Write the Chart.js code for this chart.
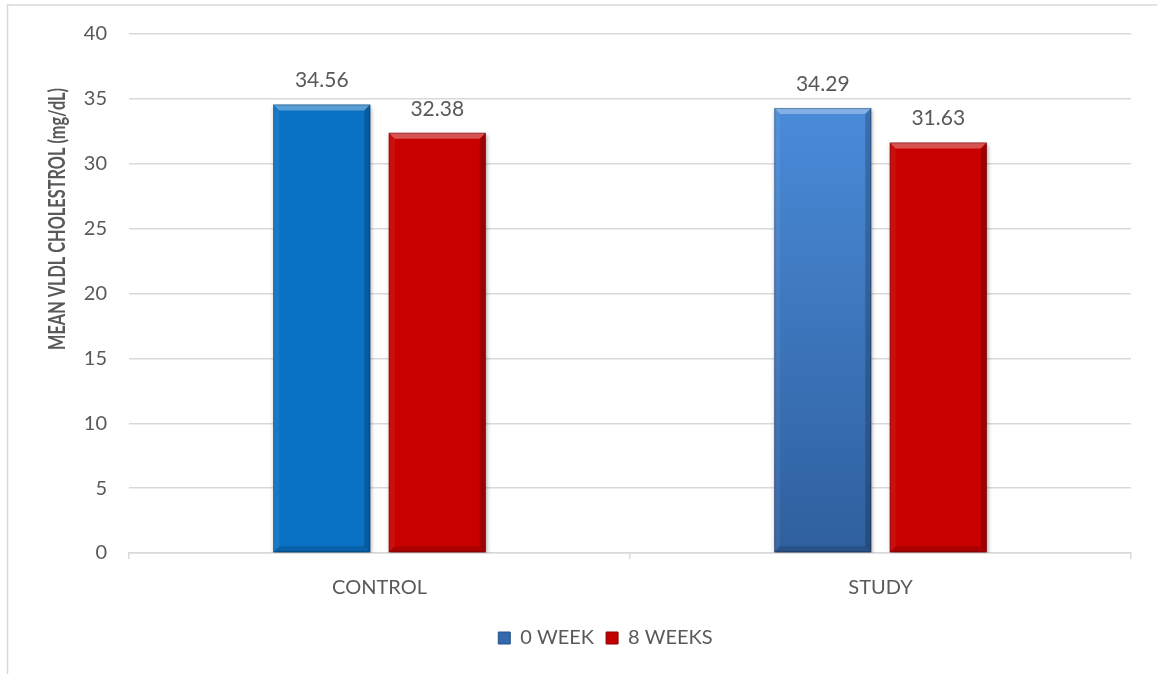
<!DOCTYPE html>
<html>
<head>
<meta charset="utf-8">
<script src="https://cdn.jsdelivr.net/npm/chart.js@4.4.1/dist/chart.umd.min.js"></script>
<style>
  html, body { margin: 0; padding: 0; background: #ffffff; overflow: hidden; }
  #wrap { width: 1157px; height: 674px; position: relative; }
</style>
</head>
<body>
<div id="wrap"><canvas id="c" width="1157" height="674"></canvas></div>
<script>
// ---- data ----
const categories = ['CONTROL', 'STUDY'];
const seriesNames = ['0 WEEK', '8 WEEKS'];
const week0 = [34.56, 34.29];
const week8 = [32.38, 31.63];
const yMin = 0, yMax = 40, yStep = 5;
const yAxisTitle = 'MEAN VLDL CHOLESTROL (mg/dL)';

// ---- styling ----
const FONT = 'Lato, "Open Sans", sans-serif';
const TEXT = '#595959';
const GRID = '#D9D9D9';
const controlBlue = '#0A72C4';
const red = '#C80000';

function studyGradient(ctx, top, bottom) {
  const g = ctx.createLinearGradient(0, top, 0, bottom);
  g.addColorStop(0, '#4A8BD9');
  g.addColorStop(1, '#2F5F9E');
  return g;
}

function week0Color(context) {
  const chart = context.chart;
  if (context.dataIndex === 0) return controlBlue;
  const y = chart.scales.y;
  if (!y) return '#3D77C0';
  const top = y.getPixelForValue(week0[context.dataIndex]);
  const bottom = y.getPixelForValue(0);
  return studyGradient(chart.ctx, top, bottom);
}

function poly(ctx, pts) {
  ctx.beginPath();
  ctx.moveTo(pts[0][0], pts[0][1]);
  for (let i = 1; i < pts.length; i++) ctx.lineTo(pts[i][0], pts[i][1]);
  ctx.closePath();
  ctx.fill();
}

// bevelled faces drawn over a rectangle
function bevel(ctx, l, t, r, b, s) {
  ctx.save();
  ctx.fillStyle = 'rgba(255,255,255,0.32)';
  poly(ctx, [[l, t], [r, t], [r - s, t + s], [l + s, t + s]]);
  ctx.fillStyle = 'rgba(255,255,255,0.06)';
  poly(ctx, [[l, t], [l + s, t + s], [l + s, b - s], [l, b]]);
  ctx.fillStyle = 'rgba(0,0,0,0.20)';
  poly(ctx, [[r, t], [r, b], [r - s, b - s], [r - s, t + s]]);
  ctx.fillStyle = 'rgba(0,0,0,0.14)';
  poly(ctx, [[l, b], [l + s, b - s], [r - s, b - s], [r, b]]);
  ctx.strokeStyle = 'rgba(0,0,0,0.25)';
  ctx.lineWidth = 1;
  ctx.strokeRect(l + 0.5, t + 0.5, r - l - 1, b - t - 1);
  ctx.restore();
}

const barStyle = {
  id: 'barStyle',
  beforeDatasetsDraw(chart) {
    const ctx = chart.ctx;
    ctx.save();
    ctx.shadowColor = 'rgba(0,0,0,0.35)';
    ctx.shadowBlur = 4;
    ctx.shadowOffsetX = 1;
    ctx.shadowOffsetY = 2;
  },
  afterDatasetsDraw(chart) {
    const ctx = chart.ctx;
    ctx.restore();
    chart.data.datasets.forEach((ds, di) => {
      const meta = chart.getDatasetMeta(di);
      meta.data.forEach((bar, i) => {
        const l = bar.x - bar.width / 2, r = bar.x + bar.width / 2;
        bevel(ctx, l, bar.y, r, bar.base, 6);
        // value label above the bar
        ctx.save();
        ctx.fillStyle = TEXT;
        ctx.font = '21px ' + FONT;
        ctx.textAlign = 'center';
        ctx.textBaseline = 'middle';
        ctx.fillText(ds.data[i].toFixed(2), bar.x, bar.y - 24);
        ctx.restore();
      });
    });
  }
};

const frame = {
  id: 'frame',
  beforeDraw(chart) {
    const ctx = chart.ctx;
    ctx.save();
    ctx.fillStyle = '#ffffff';
    ctx.fillRect(0, 0, chart.width, chart.height);
    ctx.strokeStyle = GRID;
    ctx.lineWidth = 1.5;
    ctx.beginPath();
    ctx.moveTo(7.5, chart.height);
    ctx.lineTo(7.5, 5);
    ctx.lineTo(chart.width, 5);
    ctx.stroke();
    ctx.restore();
  },
  afterDraw(chart) {
    // vertical axis title, condensed to its length
    const ctx = chart.ctx;
    const len = 262;
    ctx.save();
    ctx.font = 'bold 22px ' + FONT;
    const w = ctx.measureText(yAxisTitle).width;
    ctx.translate(58, 219);
    ctx.rotate(-Math.PI / 2);
    ctx.scale(len / w, 1);
    ctx.fillStyle = TEXT;
    ctx.textAlign = 'center';
    ctx.textBaseline = 'middle';
    ctx.fillText(yAxisTitle, 0, 0);
    ctx.restore();
  },
  afterLayout(chart) {
    // legend sits right of centre, under the plot
    const dx = 36;
    chart.legend.left += dx;
    chart.legend.right += dx;
  }
};

new Chart(document.getElementById('c'), {
  type: 'bar',
  data: {
    labels: categories,
    datasets: [
      { label: seriesNames[0], data: week0, backgroundColor: week0Color, borderWidth: 0 },
      { label: seriesNames[1], data: week8, backgroundColor: red, borderWidth: 0 }
    ]
  },
  options: {
    responsive: false,
    animation: false,
    devicePixelRatio: 1,
    categoryPercentage: 0.461,
    barPercentage: 0.84,
    layout: { padding: { top: 34, left: 8, right: 26, bottom: 16 } },
    plugins: {
      tooltip: { enabled: false },
      legend: {
        position: 'bottom',
        labels: {
          font: { family: FONT, size: 20 },
          color: TEXT,
          boxWidth: 12,
          boxHeight: 12,
          padding: 12,
          generateLabels() {
            return [
              { text: seriesNames[0], fillStyle: '#3569AE', strokeStyle: '#24508A', lineWidth: 1, fontColor: TEXT, datasetIndex: 0 },
              { text: seriesNames[1], fillStyle: '#C00000', strokeStyle: '#8E0000', lineWidth: 1, fontColor: TEXT, datasetIndex: 1 }
            ];
          }
        }
      }
    },
    scales: {
      x: {
        grid: { display: true, drawOnChartArea: false, drawTicks: true, tickLength: 6, color: GRID, lineWidth: 1.5 },
        border: { display: true, color: GRID, width: 1.5 },
        ticks: { font: { family: FONT, size: 20 }, color: TEXT, padding: 17 },
        afterFit(scale) { scale.height = 63; }
      },
      y: {
        min: yMin, max: yMax,
        ticks: { stepSize: yStep, font: { family: FONT, size: 20 }, color: TEXT, padding: 22 },
        grid: { color: GRID, lineWidth: 1.5, drawTicks: false },
        border: { display: false },
        afterFit(scale) { scale.width = 121; }
      }
    }
  },
  plugins: [frame, barStyle]
});
</script>
</body>
</html>
